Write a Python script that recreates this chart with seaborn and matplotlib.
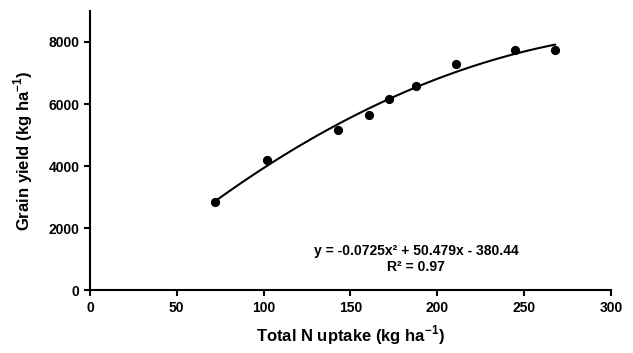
import matplotlib
matplotlib.use("Agg")
import matplotlib.pyplot as plt
import seaborn as sns
import pandas as pd

# values
n_uptake = [72, 102, 143, 161, 172, 188, 211, 245, 268]
grain_yield = [2830, 4210, 5160, 5655, 6160, 6565, 7285, 7750, 7745]
x_ticks = [0, 50, 100, 150, 200, 250, 300]
y_ticks = [0, 2000, 4000, 6000, 8000]
equation = "y = -0.0725x\u00b2 + 50.479x - 380.44\nR\u00b2 = 0.97"

sns.set_style("ticks")
plt.rcParams["font.family"] = ["Liberation Sans", "DejaVu Sans"]
plt.rcParams["text.color"] = "black"
plt.rcParams["axes.labelcolor"] = "black"
plt.rcParams["xtick.color"] = "black"
plt.rcParams["ytick.color"] = "black"
plt.rcParams["mathtext.fontset"] = "custom"
plt.rcParams["mathtext.bf"] = "Liberation Sans:bold"
plt.rcParams["mathtext.rm"] = "Liberation Sans"

df = pd.DataFrame({"uptake": n_uptake, "yield": grain_yield})

fig = plt.figure(figsize=(6.33, 3.53), dpi=100)
ax = fig.add_axes([0.142, 0.178, 0.823, 0.791])

sns.regplot(data=df, x="uptake", y="yield", order=2, ci=None, truncate=True,
            ax=ax, color="black",
            scatter_kws={"s": 44, "color": "black", "linewidths": 0,
                         "alpha": 1},
            line_kws={"linewidth": 1.5, "color": "black"})

ax.set_xlim(0, 300)
ax.set_ylim(0, 9000)
ax.set_xticks(x_ticks)
ax.set_yticks(y_ticks)
ax.tick_params(direction="out", length=4, width=1.5, labelsize=10)
for lab in ax.get_xticklabels() + ax.get_yticklabels():
    lab.set_fontweight("bold")

sns.despine(ax=ax)
for s in ["left", "bottom"]:
    ax.spines[s].set_linewidth(1.5)
    ax.spines[s].set_color("black")

ax.set_xlabel("Total N uptake (kg ha$^{\\mathbf{-1}}$)", fontsize=12,
              fontweight="bold", labelpad=6)
ax.set_ylabel("Grain yield (kg ha$^{\\mathbf{-1}}$)", fontsize=12,
              fontweight="bold", labelpad=10)

ax.text(188, 1000, equation, ha="center", va="center", fontsize=10,
        fontweight="bold", linespacing=1.15)

fig.savefig("out.png", dpi=100)
